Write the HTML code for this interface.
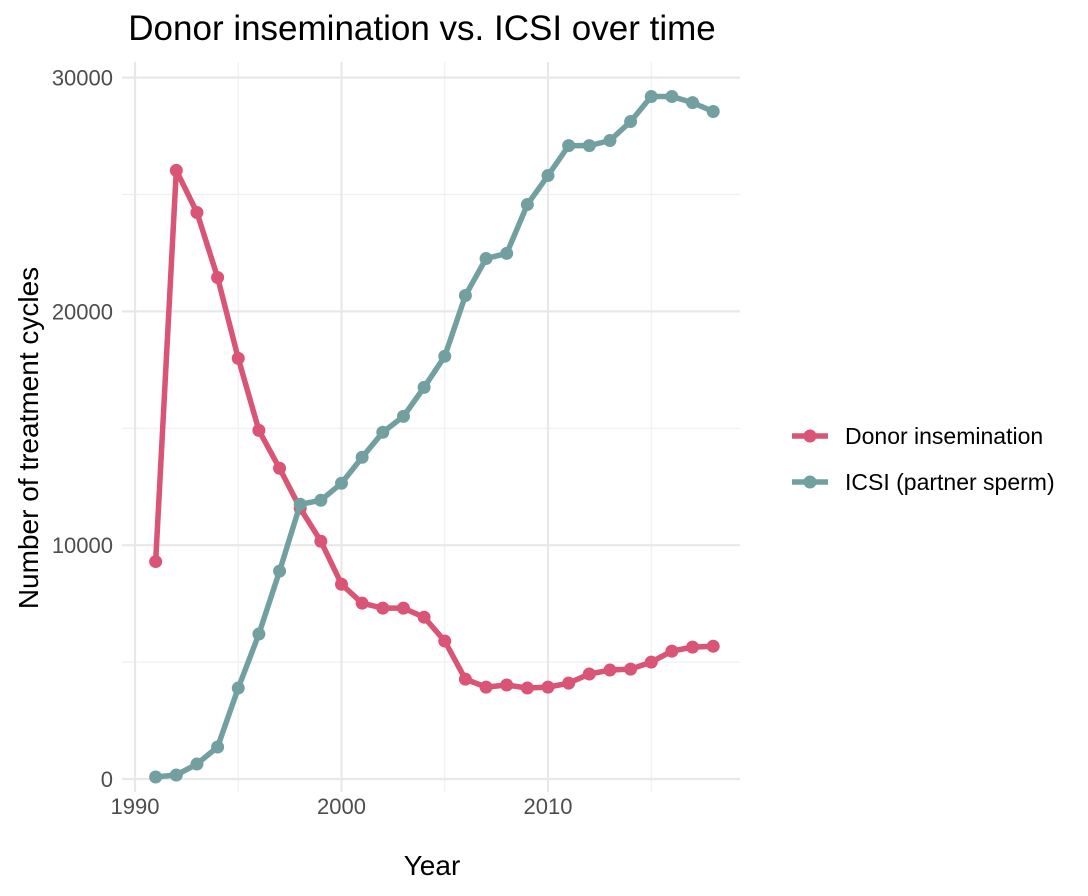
<!DOCTYPE html>
<html><head><meta charset="utf-8"><style>
body{margin:0;background:#fff;font-family:"Liberation Sans",Arial,sans-serif}
svg{display:block}
</style></head><body>
<svg id="chart" width="1088" height="896" xmlns="http://www.w3.org/2000/svg">
<text x="422" y="40" font-size="35" text-anchor="middle" fill="#000">Donor insemination vs. ICSI over time</text>
<g id="grid"></g>
<g id="axes"></g>
<g id="series"></g>
<text x="432" y="875" font-size="28" text-anchor="middle" fill="#000">Year</text>
<text transform="translate(38,438) rotate(-90)" font-size="28" text-anchor="middle" fill="#000">Number of treatment cycles</text>
<g>
<g>
<line x1="792" y1="436" x2="828" y2="436" stroke="#d95475" stroke-width="5.5"/><circle cx="810" cy="436" r="6.5" fill="#d95475"/>
<text x="845" y="444" font-size="23" fill="#000">Donor insemination</text></g>
<g>
<line x1="792" y1="482" x2="828" y2="482" stroke="#72a0a1" stroke-width="5.5"/><circle cx="810" cy="482" r="6.5" fill="#72a0a1"/>
<text x="845" y="490" font-size="23" fill="#000">ICSI (partner sperm)</text></g>
</g>
</svg>
<script>
const years=[1991,1992,1993,1994,1995,1996,1997,1998,1999,2000,2001,2002,2003,2004,2005,2006,2007,2008,2009,2010,2011,2012,2013,2014,2015,2016,2017,2018];
const donorValues=[9300,26030,24230,21450,17990,14910,13290,11580,10170,8330,7520,7310,7310,6920,5900,4270,3930,4020,3890,3930,4100,4490,4660,4700,5000,5470,5640,5680];
const icsiValues=[85,170,640,1370,3890,6200,8890,11750,11920,12650,13760,14830,15510,16750,18080,20680,22260,22480,24570,25810,27090,27090,27310,28120,29190,29190,28930,28550];
const xTicks=[1990,2000,2010];
const xMinor=[1995,2005,2015];
const yTicks=[0,10000,20000,30000];
const yMinor=[5000,15000,25000];
const NS="http://www.w3.org/2000/svg";
const xs=y=>135+(y-1990)*20.65;
const ys=v=>779-v*0.02338;
const L=122,R=740,T=62,B=792;
const grid=document.getElementById('grid'),axes=document.getElementById('axes'),ser=document.getElementById('series');
function mk(tag,attrs,parent){const e=document.createElementNS(NS,tag);for(const k in attrs)e.setAttribute(k,attrs[k]);parent.appendChild(e);return e;}
xMinor.forEach(t=>{const l=mk('line',{x1:xs(t),x2:xs(t),y1:T,y2:B,stroke:'#efefef','stroke-width':1.2},grid);

});
yMinor.forEach(t=>{const l=mk('line',{x1:L,x2:R,y1:ys(t),y2:ys(t),stroke:'#efefef','stroke-width':1.2},grid);

});
xTicks.forEach(t=>{const l=mk('line',{x1:xs(t),x2:xs(t),y1:T,y2:B,stroke:'#e8e8e8','stroke-width':2.2},grid);


const tx=mk('text',{x:xs(t),y:814,'font-size':22,fill:'#4d4d4d','text-anchor':'middle'},axes);tx.textContent=t;

});
yTicks.forEach(t=>{const l=mk('line',{x1:L,x2:R,y1:ys(t),y2:ys(t),stroke:'#e8e8e8','stroke-width':2.2},grid);


const tx=mk('text',{x:113,y:ys(t)+8,'font-size':22,fill:'#4d4d4d','text-anchor':'end'},axes);tx.textContent=t;

});
function series(vals,color,name){
const p=mk('polyline',{points:years.map((y,i)=>xs(y)+','+ys(vals[i])).join(' '),fill:'none',stroke:color,'stroke-width':5.5,'stroke-linejoin':'round'},ser);


years.forEach((y,i)=>{const c=mk('circle',{cx:xs(y),cy:ys(vals[i]),r:6.5,fill:color},ser);

});}
series(donorValues,'#d95475','donor');
series(icsiValues,'#72a0a1','icsi');
</script>
</body></html>
